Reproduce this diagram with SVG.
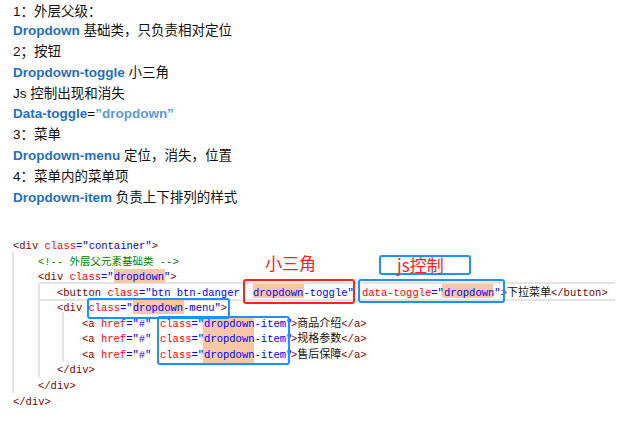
<svg xmlns="http://www.w3.org/2000/svg" width="631" height="433" viewBox="0 0 631 433">
<style>
.t{font-family:"Liberation Sans","Noto Sans CJK SC",sans-serif;font-size:13.5px;fill:#111}
.b{font-weight:bold;fill:#1f6fc2}
.lb{font-weight:bold;fill:#5a9bd8}
.c{font-family:"Liberation Mono","Noto Sans CJK SC",monospace;font-size:10.5px;fill:#800000}
.cj{font-family:"Noto Sans CJK SC",sans-serif;font-size:11px;fill:#111}
.a{fill:#ff0000}.v{fill:#0000ff}.g{fill:#008000}.k{fill:#111}
.hl{fill:#f7c7a8}
.bx{fill:none;stroke:#1e90ff;stroke-width:2}
.guide{stroke:#c8c8c8;stroke-width:1}
</style>
<rect width="631" height="433" fill="#fff"/>
<g id="notes">
<text class="t" x="13" y="16">1：外层父级：</text>
<text class="t" x="13" y="35"><tspan class="b">Dropdown</tspan> 基础类，只负责相对定位</text>
<text class="t" x="13" y="56">2；按钮</text>
<text class="t" x="13" y="77"><tspan class="b">Dropdown-toggle</tspan>  小三角</text>
<text class="t" x="13" y="98">Js 控制出现和消失</text>
<text class="t" x="13" y="118"><tspan class="b">Data-toggle</tspan>=<tspan class="lb">”dropdown”</tspan></text>
<text class="t" x="13" y="139">3：菜单</text>
<text class="t" x="13" y="160"><tspan class="b">Dropdown-menu</tspan>  定位，消失，位置</text>
<text class="t" x="13" y="181">4：菜单内的菜单项</text>
<text class="t" x="13" y="202"><tspan class="b">Dropdown-item</tspan>  负责上下排列的样式</text>
</g>
<g id="code">
<line class="guide" x1="40" y1="283" x2="615" y2="283"/>
<line class="guide" x1="40" y1="300" x2="615" y2="300"/>
<line class="guide" x1="13" y1="252" x2="13" y2="393"/>
<line class="guide" x1="39" y1="283" x2="39" y2="377"/>
<line class="guide" x1="63" y1="312" x2="63" y2="362"/>
<rect class="hl" x="114" y="269" width="51" height="14"/>
<rect class="hl" x="253" y="284" width="51" height="14"/>
<rect class="hl" x="442" y="284" width="51" height="14"/>
<rect class="hl" x="133" y="300" width="51" height="14"/>
<rect class="hl" x="203" y="316" width="51" height="47"/>
<text class="c" x="13" y="249">&lt;div <tspan class="a">class</tspan><tspan class="v">="container"</tspan>&gt;</text>
<text class="c g" x="38" y="265">&lt;!-- <tspan font-family="Noto Sans CJK SC">外层父元素基础类</tspan> --&gt;</text>
<text class="c" x="38" y="280">&lt;div <tspan class="a">class</tspan><tspan class="v">="dropdown"</tspan>&gt;</text>
<text class="c" x="57" y="296">&lt;button <tspan class="a">class</tspan><tspan class="v">="btn btn-danger </tspan></text>
<text class="c v" x="253" y="296">dropdown-toggle"</text>
<text class="c" x="362" y="296"><tspan class="a">data-toggle</tspan><tspan class="v">="dropdown"</tspan>&gt;</text>
<text class="cj" x="507" y="296">下拉菜单<tspan class="c">&lt;/button&gt;</tspan></text>
<text class="c" x="57" y="311">&lt;div <tspan class="a">class</tspan><tspan class="v">="dropdown-menu"</tspan>&gt;</text>
<text class="c" x="82" y="327">&lt;a <tspan class="a">href</tspan><tspan class="v">="#"</tspan></text>
<text class="c" x="82" y="342">&lt;a <tspan class="a">href</tspan><tspan class="v">="#"</tspan></text>
<text class="c" x="82" y="358">&lt;a <tspan class="a">href</tspan><tspan class="v">="#"</tspan></text>
<text class="c" x="160" y="327"><tspan class="a">class</tspan><tspan class="v">="dropdown-item"</tspan></text>
<text class="c" x="160" y="342"><tspan class="a">class</tspan><tspan class="v">="dropdown-item"</tspan></text>
<text class="c" x="160" y="358"><tspan class="a">class</tspan><tspan class="v">="dropdown-item"</tspan></text>
<text class="cj" x="291" y="327"><tspan class="c">&gt;</tspan>商品介绍<tspan class="c">&lt;/a&gt;</tspan></text>
<text class="cj" x="291" y="342"><tspan class="c">&gt;</tspan>规格参数<tspan class="c">&lt;/a&gt;</tspan></text>
<text class="cj" x="291" y="358"><tspan class="c">&gt;</tspan>售后保障<tspan class="c">&lt;/a&gt;</tspan></text>
<text class="c" x="57" y="373">&lt;/div&gt;</text>
<text class="c" x="38" y="389">&lt;/div&gt;</text>
<text class="c" x="13" y="405">&lt;/div&gt;</text>
</g>
<g id="annotations">
<rect x="244" y="280" width="110" height="23" rx="2" fill="none" stroke="#ff2020" stroke-width="2"/>
<rect class="bx" x="359" y="280" width="145" height="22" rx="2"/>
<rect class="bx" x="88" y="299" width="141" height="19" rx="2"/>
<rect class="bx" x="158" y="317" width="131" height="47" rx="2"/>
<rect class="bx" x="380" y="256" width="90" height="18" rx="2"/>
<text x="265" y="270" font-family="Noto Sans CJK SC,sans-serif" font-size="17" fill="#ff2020">小三角</text>
<text x="397" y="272" font-family="Noto Sans CJK SC,sans-serif" font-size="17" fill="#ff2020">js控制</text>
</g>
</svg>
